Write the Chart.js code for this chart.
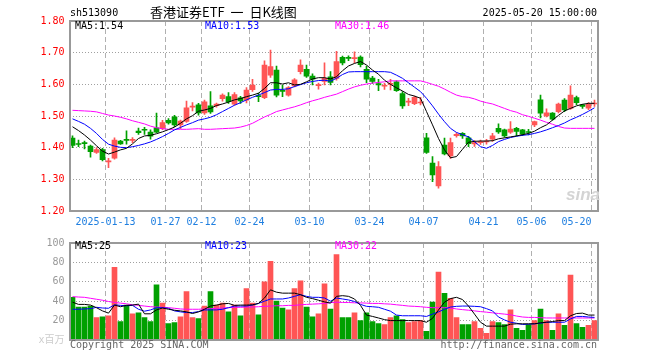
<!DOCTYPE html>
<html>
<head>
<meta charset="utf-8">
<script src="https://cdn.jsdelivr.net/npm/chart.js@4/dist/chart.umd.min.js"></script>
<style>
  body { margin: 0; background: #fff; width: 660px; height: 360px; position: relative; overflow: hidden;
         font-family: "DejaVu Sans Mono", monospace; font-size: 10px; }
  canvas { position: absolute; left: 0; }
  #kline { top: 0; }
  #vol { top: 232px; }
  .t { position: absolute; white-space: nowrap; line-height: 10px; }
</style>
</head>
<body>
<canvas id="kline" width="660" height="232"></canvas>
<canvas id="vol" width="660" height="128"></canvas>

<div class="t" style="left:70px;top:8px;color:#000">sh513090</div>
<div class="t" style="left:150px;top:4px;font:13px 'Noto Sans CJK SC',sans-serif;line-height:15px;word-spacing:3px;color:#000">香港证券ETF 一 日K线图</div>
<div class="t" style="right:63px;top:8px;color:#000">2025-05-20 15:00:00</div>

<div class="t" style="left:75px;top:21px;color:#000">MA5:1.54</div>
<div class="t" style="left:205px;top:21px;color:#0000ff">MA10:1.53</div>
<div class="t" style="left:335px;top:21px;color:#ff00ff">MA30:1.46</div>

<div class="t" style="left:566px;top:186px;font:bold italic 17px 'Liberation Sans',sans-serif;line-height:18px;color:#d4d4d4">sina</div>

<div class="t" style="left:75px;top:241px;color:#000">MA5:25</div>
<div class="t" style="left:205px;top:241px;color:#0000ff">MA10:23</div>
<div class="t" style="left:335px;top:241px;color:#ff00ff">MA30:22</div>

<div class="t" style="left:70px;top:340px;color:#666">Copyright 2025 SINA.COM</div>
<div class="t" style="right:63px;top:340px;color:#666">http://finance.sina.com.cn</div>

<script>
// 交易日
const dates = [
  '2025-01-03','2025-01-06','2025-01-07','2025-01-08','2025-01-09','2025-01-10',
  '2025-01-13','2025-01-14','2025-01-15','2025-01-16','2025-01-17',
  '2025-01-20','2025-01-21','2025-01-22','2025-01-23','2025-01-24',
  '2025-01-27','2025-02-05','2025-02-06','2025-02-07',
  '2025-02-10','2025-02-11','2025-02-12','2025-02-13','2025-02-14',
  '2025-02-17','2025-02-18','2025-02-19','2025-02-20','2025-02-21',
  '2025-02-24','2025-02-25','2025-02-26','2025-02-27','2025-02-28',
  '2025-03-03','2025-03-04','2025-03-05','2025-03-06','2025-03-07',
  '2025-03-10','2025-03-11','2025-03-12','2025-03-13','2025-03-14',
  '2025-03-17','2025-03-18','2025-03-19','2025-03-20','2025-03-21',
  '2025-03-24','2025-03-25','2025-03-26','2025-03-27','2025-03-28',
  '2025-03-31','2025-04-01','2025-04-02','2025-04-03',
  '2025-04-07','2025-04-08','2025-04-09','2025-04-10','2025-04-11',
  '2025-04-14','2025-04-15','2025-04-16','2025-04-17','2025-04-18',
  '2025-04-21','2025-04-22','2025-04-23','2025-04-24','2025-04-25',
  '2025-04-28','2025-04-29','2025-04-30',
  '2025-05-06','2025-05-07','2025-05-08','2025-05-09',
  '2025-05-12','2025-05-13','2025-05-14','2025-05-15','2025-05-16',
  '2025-05-19','2025-05-20'
];

const tickDates = ['2025-01-13','2025-01-27','2025-02-12','2025-02-24','2025-03-10',
                   '2025-03-24','2025-04-07','2025-04-21','2025-05-06','2025-05-20'];

const openPrices = [
  1.430,1.411,1.414,1.405,1.385,1.394,1.355,1.367,1.421,1.425,
  1.423,1.452,1.457,1.449,1.463,1.461,1.486,1.497,1.472,1.483,
  1.528,1.535,1.510,1.532,1.533,1.555,1.561,1.537,1.557,1.550,
  1.583,1.563,1.558,1.629,1.645,1.580,1.566,1.595,1.640,1.647,
  1.626,1.596,1.609,1.624,1.619,1.685,1.684,1.681,1.686,1.647,
  1.620,1.602,1.594,1.600,1.608,1.571,1.544,1.539,1.541,1.431,
  1.351,1.279,1.408,1.374,1.438,1.445,1.431,1.412,1.416,1.418,
  1.427,1.461,1.456,1.449,1.461,1.456,1.450,1.472,1.551,1.500,
  1.509,1.514,1.550,1.524,1.558,1.535,1.525,1.538
];
const highPrices = [
  1.437,1.424,1.421,1.408,1.400,1.398,1.366,1.431,1.423,1.453,
  1.432,1.462,1.464,1.456,1.509,1.486,1.492,1.502,1.487,1.547,
  1.542,1.540,1.550,1.577,1.541,1.570,1.574,1.574,1.562,1.590,
  1.616,1.572,1.674,1.708,1.658,1.598,1.593,1.618,1.677,1.661,
  1.633,1.604,1.668,1.640,1.704,1.689,1.690,1.703,1.690,1.658,
  1.625,1.616,1.603,1.616,1.611,1.577,1.556,1.563,1.559,1.445,
  1.372,1.356,1.430,1.430,1.447,1.448,1.436,1.422,1.424,1.426,
  1.445,1.475,1.459,1.482,1.464,1.458,1.458,1.484,1.566,1.523,
  1.511,1.541,1.555,1.595,1.563,1.537,1.542,1.550
];
const lowPrices = [
  1.400,1.403,1.396,1.370,1.382,1.358,1.337,1.364,1.410,1.411,
  1.416,1.442,1.442,1.427,1.447,1.457,1.474,1.466,1.460,1.480,
  1.516,1.503,1.505,1.508,1.528,1.547,1.540,1.534,1.540,1.541,
  1.578,1.545,1.555,1.622,1.560,1.561,1.563,1.592,1.633,1.622,
  1.598,1.585,1.598,1.598,1.613,1.661,1.675,1.668,1.655,1.605,
  1.603,1.580,1.584,1.582,1.578,1.524,1.533,1.536,1.535,1.382,
  1.293,1.272,1.377,1.366,1.433,1.429,1.403,1.404,1.410,1.411,
  1.420,1.445,1.433,1.445,1.437,1.438,1.440,1.466,1.494,1.497,
  1.487,1.510,1.514,1.521,1.536,1.524,1.520,1.530
];
const closePrices = [
  1.407,1.410,1.413,1.387,1.394,1.362,1.357,1.424,1.412,1.423,
  1.425,1.447,1.455,1.436,1.449,1.479,1.478,1.472,1.484,1.526,
  1.530,1.510,1.545,1.513,1.538,1.566,1.545,1.568,1.548,1.582,
  1.598,1.561,1.661,1.656,1.566,1.578,1.590,1.614,1.661,1.626,
  1.616,1.598,1.619,1.606,1.672,1.668,1.682,1.683,1.662,1.616,
  1.609,1.598,1.596,1.602,1.580,1.532,1.546,1.559,1.543,1.385,
  1.314,1.340,1.380,1.416,1.442,1.437,1.413,1.416,1.418,1.420,
  1.437,1.450,1.437,1.459,1.451,1.443,1.448,1.482,1.509,1.510,
  1.490,1.538,1.519,1.566,1.542,1.530,1.537,1.541
];

const priceMa5 = [
  1.466,1.454,1.440,1.424,1.406,1.389,1.380,1.386,1.393,1.398,
  1.412,1.429,1.437,1.439,1.444,1.450,1.457,1.465,1.477,1.491,
  1.501,1.515,1.519,1.524,1.533,1.538,1.544,1.551,1.555,1.561,
  1.566,1.572,1.587,1.605,1.605,1.601,1.605,1.598,1.600,1.608,
  1.617,1.621,1.621,1.617,1.624,1.643,1.658,1.666,1.672,1.661,
  1.645,1.632,1.613,1.600,1.589,1.579,1.568,1.563,1.556,1.514,
  1.472,1.429,1.393,1.368,1.372,1.395,1.417,1.420,1.421,1.421,
  1.422,1.428,1.431,1.434,1.437,1.441,1.445,1.452,1.463,1.472,
  1.487,1.502,1.516,1.524,1.532,1.537,1.540,1.540
];
const priceMa10 = [
  1.491,1.483,1.474,1.461,1.445,1.426,1.411,1.405,1.401,1.400,
  1.403,1.407,1.412,1.418,1.426,1.435,1.445,1.456,1.464,1.472,
  1.479,1.487,1.491,1.496,1.504,1.514,1.524,1.534,1.542,1.551,
  1.559,1.566,1.574,1.582,1.584,1.584,1.586,1.593,1.599,1.605,
  1.609,1.612,1.613,1.610,1.619,1.631,1.639,1.640,1.640,1.640,
  1.640,1.640,1.640,1.638,1.629,1.619,1.605,1.591,1.577,1.556,
  1.532,1.506,1.482,1.461,1.448,1.441,1.434,1.419,1.403,1.398,
  1.407,1.419,1.426,1.432,1.436,1.439,1.441,1.445,1.450,1.456,
  1.463,1.470,1.478,1.488,1.496,1.505,1.515,1.526
];
const priceMa30 = [
  1.518,1.517,1.516,1.515,1.513,1.508,1.503,1.500,1.496,1.491,
  1.485,1.480,1.475,1.468,1.463,1.460,1.458,1.458,1.458,1.458,
  1.459,1.460,1.458,1.458,1.459,1.460,1.461,1.462,1.465,1.470,
  1.477,1.487,1.497,1.505,1.514,1.519,1.524,1.529,1.535,1.542,
  1.548,1.553,1.559,1.564,1.569,1.577,1.585,1.592,1.597,1.601,
  1.604,1.606,1.608,1.611,1.611,1.611,1.611,1.611,1.611,1.606,
  1.600,1.594,1.585,1.575,1.566,1.561,1.559,1.554,1.547,1.542,
  1.538,1.531,1.524,1.517,1.512,1.504,1.499,1.493,1.487,1.480,
  1.474,1.467,1.462,1.461,1.461,1.461,1.461,1.461
];

// 成交量(百万)
const volumes = [
  44,34,34,35,23,24,25,75,19,36,
  27,28,23,19,57,38,17,18,24,50,
  23,22,35,50,36,38,29,36,25,53,
  38,26,60,81,40,33,31,53,61,34,
  24,27,58,32,88,23,23,28,20,28,
  19,17,16,23,25,21,18,19,20,9,
  39,70,48,43,23,16,16,19,12,7,
  19,18,16,31,12,10,16,20,32,20,
  10,27,15,67,17,13,15,20
];
const volMa5 = [
  39,36.7,36.7,36,33.3,30,27.7,36,34.3,35.7,
  36,37,27,27,31,33,31.7,30.7,30,29,
  27.3,29,31.7,35,36,37.3,37.7,35.7,36,36,
  36.3,37.7,43.3,51.7,49.3,48.3,48.3,48.3,46.7,44,
  42.7,41,39.3,38,45,45.7,45,42.3,35.7,25.7,
  24.3,22.7,21,20,20,20,20,20,20,18.3,
  22.3,31,39,42.7,44,41.7,35,26.7,18.3,14.3,
  14.3,14.3,14.3,16.3,16.7,16.7,16.7,16.7,17.7,18.3,
  19,20,20,25,27.3,27.7,25.7,25.7
];
const volMa10 = [
  31.7,31.7,32,32.3,33.7,33,32.7,36.3,35.7,35.3,
  35.7,31.7,29.7,31,33.3,33.3,32.7,30,29,28.3,
  28.3,29.3,31,31,31,31.7,33.3,35,35,35,
  36,37.7,40,42.3,42.3,42.3,43.3,45,46.7,45,
  44,44,43.3,40,43.3,42.3,41.3,39.7,36.7,34.7,
  34.3,33.7,31.7,29.7,25.7,25,25,25,25,24.3,
  26.7,29,31.7,34,34.7,35,35,34.7,34.3,32.3,
  30,23.7,20.7,18.3,17.3,16,16.3,16.7,17.3,18.3,
  18.3,18.3,18.3,21.7,24.3,24.3,23.7,23.3
];
const volMa30 = [
  44.7,44.3,44,43,42,41,39.7,38.7,38,37.3,
  36.3,35.7,35,34.3,34,33.7,33.3,32.7,32,31.7,
  31.7,31.7,32,32.3,32.7,33,33.3,33.7,33.7,34,
  34,34.3,34.7,35,35.3,35.3,35.7,35.7,36.3,36.7,
  37,37.3,37.7,38.5,39,38.7,38.7,38.3,38.3,38,
  37.7,37.7,37.3,37,36.3,35.7,35,34.7,34.3,33.7,
  33.3,33.3,33.3,33,32,31.3,30.7,30,29.3,28.7,
  28,27.3,26.7,26,24.7,23.7,23.3,23.3,23,22.7,
  22.7,22.7,22.7,22.7,22.7,22.7,22.7,22.7
];

const UP = '#ff5555';
const DOWN = '#00a000';
const MONO = { family: "'DejaVu Sans Mono', 'Noto Sans CJK SC', monospace", size: 10 };

const candleColors = openPrices.map((o, i) => closePrices[i] >= o ? UP : DOWN);
const tickIdx = tickDates.map(d => dates.indexOf(d));
const xs = dates.map((_, i) => i + 0.5);

function tickLabel(v) {
  const k = tickIdx.indexOf(v);
  if (k < 0) return '';
  if (k === 0) return tickDates[k];
  // 最后一个标签靠右边框，向左让一点
  return k === tickDates.length - 1 ? tickDates[k].slice(5) + '     ' : tickDates[k].slice(5);
}

function maLine(label, values, color) {
  return {
    type: 'line', label, order: 0,
    data: xs.map((x, i) => ({ x, y: values[i] })),
    borderColor: color, borderWidth: 1, pointRadius: 0, tension: 0
  };
}

const frame = {
  id: 'frame',
  afterDraw(chart) {
    const { ctx, chartArea: a } = chart;
    ctx.save();
    ctx.strokeStyle = '#999';
    ctx.lineWidth = 2;
    ctx.strokeRect(Math.round(a.left), Math.round(a.top), Math.round(a.right - a.left), Math.round(a.bottom - a.top));
    ctx.restore();
  }
};

const xBase = {
  type: 'linear', min: 0, max: dates.length, offset: false,
  afterBuildTicks: s => { s.ticks = tickIdx.map(v => ({ value: v })); },
  grid: { color: '#b0b0b0', lineWidth: 1, drawTicks: false, offset: false },
  border: { display: false, dash: [5, 3] }
};

const isEdge = (v, lo, hi) => Math.abs(v - lo) < 1e-6 || Math.abs(v - hi) < 1e-6;

new Chart(document.getElementById('kline'), {
  type: 'bar',
  data: {
    datasets: [
      maLine('MA5', priceMa5, '#000000'),
      maLine('MA10', priceMa10, '#0000ff'),
      maLine('MA30', priceMa30, '#ff00ff'),
      {
        label: 'body', order: 1, grouped: false,
        data: xs.map((x, i) => ({ x, y: [openPrices[i], closePrices[i]] })),
        backgroundColor: candleColors, borderWidth: 0, barThickness: 5, minBarLength: 1
      },
      {
        label: 'wick', order: 2, grouped: false,
        data: xs.map((x, i) => ({ x, y: [lowPrices[i], highPrices[i]] })),
        backgroundColor: candleColors, borderWidth: 0, barThickness: 1
      }
    ]
  },
  options: {
    responsive: false,
    animation: false,
    events: [],
    layout: { padding: { top: 21, right: 62.5, left: 0, bottom: 0 } },
    plugins: { legend: { display: false }, tooltip: { enabled: false } },
    scales: {
      x: {
        ...xBase,
        afterFit: s => { s.height = 21; },
        ticks: { autoSkip: false, maxRotation: 0, padding: 5, color: '#1f7fe0', font: MONO, callback: v => tickLabel(v) }
      },
      y: {
        min: 1.2, max: 1.8,
        afterFit: s => { s.width = 69.5; },
        ticks: { stepSize: 0.1, padding: 5, color: '#ff0000', font: MONO, callback: v => Number(v).toFixed(2) },
        grid: { drawTicks: false, lineWidth: 1, color: c => isEdge(c.tick.value, 1.2, 1.8) ? 'rgba(0,0,0,0)' : '#a0a0a0' },
        border: { display: false, dash: [1, 2] }
      }
    }
  },
  plugins: [frame]
});

new Chart(document.getElementById('vol'), {
  type: 'bar',
  data: {
    datasets: [
      maLine('MA5', volMa5, '#000000'),
      maLine('MA10', volMa10, '#0000ff'),
      maLine('MA30', volMa30, '#ff00ff'),
      {
        label: 'vol', order: 1, grouped: false,
        data: xs.map((x, i) => ({ x, y: volumes[i] })),
        backgroundColor: candleColors, borderWidth: 0, barThickness: 5
      }
    ]
  },
  options: {
    responsive: false,
    animation: false,
    events: [],
    layout: { padding: { top: 8, right: 62.5, left: 0, bottom: 20 } },
    plugins: { legend: { display: false }, tooltip: { enabled: false } },
    scales: {
      x: {
        ...xBase,
        afterFit: s => { s.height = 0; },
        ticks: { display: false }
      },
      y: {
        min: 0, max: 100,
        afterFit: s => { s.width = 69.5; },
        ticks: {
          stepSize: 20, padding: 5, font: MONO,
          color: c => c.tick.value === 0 ? '#cccccc' : '#999999',
          callback: v => v === 0 ? 'x百万' : v
        },
        grid: { drawTicks: false, lineWidth: 1, color: c => isEdge(c.tick.value, 0, 100) ? 'rgba(0,0,0,0)' : '#a0a0a0' },
        border: { display: false, dash: [1, 2] }
      }
    }
  },
  plugins: [frame]
});
</script>
</body>
</html>
